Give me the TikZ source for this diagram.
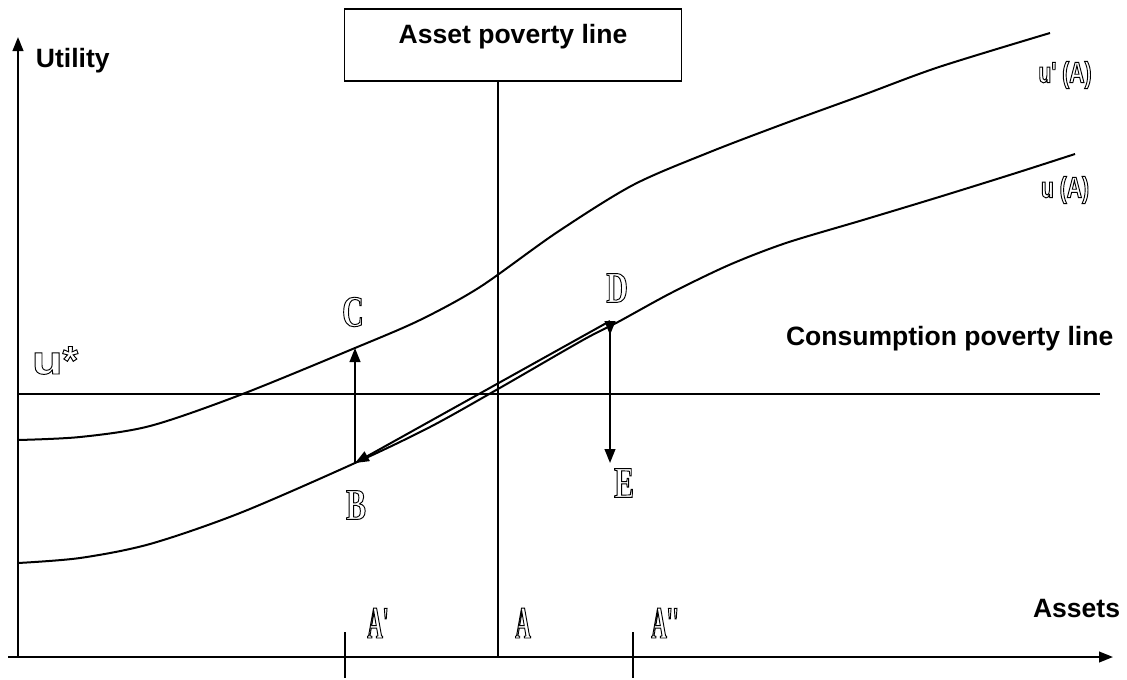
\documentclass[tikz,border=0pt]{standalone}
\usepackage{fontspec}
\setmainfont{Liberation Sans}
\newfontfamily\condserif[FakeStretch=0.68]{Liberation Serif}
\newfontfamily\narrowserif[FakeStretch=0.47]{Liberation Serif}
\newfontfamily\condsans[FakeStretch=0.72]{Liberation Sans}
\newfontfamily\widesans[FakeStretch=1.25]{Liberation Sans}
\usetikzlibrary{arrows.meta}
\newcommand\outl[1]{\special{pdf:literal direct 1 Tr 0.7 w}#1\special{pdf:literal direct 0 Tr}}
\begin{document}
\begin{tikzpicture}[x=0.75pt,y=-0.75pt,line width=1.5pt,
  lbl/.style={font=\bfseries\fontsize{19.9}{22}\selectfont,inner sep=0,anchor=base west},
  ptlbl/.style={font=\condserif\bfseries\fontsize{33}{33}\selectfont,inner sep=0},
  axlbl/.style={font=\narrowserif\bfseries\fontsize{34}{34}\selectfont,inner sep=0},
  crvlbl/.style={font=\condsans\bfseries\fontsize{22}{22}\selectfont,inner sep=0},
  arr/.style={-{Triangle[length=10.5pt,width=8pt]}}]
\useasboundingbox (0,0) rectangle (1127,679);

% axes
\coordinate (O) at (18,657);
\coordinate (Ytop) at (18,37);
\coordinate (Xl) at (8,657);
\coordinate (Xr) at (1113,657);
\draw[arr] (O) -- (Ytop);
\draw[arr] (Xl) -- (Xr);

% asset poverty line box and vertical line
\node[draw,line width=1.3pt,minimum width=252.75pt,inner xsep=0pt,inner ysep=0pt,
      text height=26.25pt,text depth=27.75pt,anchor=north,
      font=\bfseries\fontsize{19.9}{22}\selectfont] (box) at (513,8) {Asset poverty line};
\coordinate (Abot) at (498,658);
\draw (box.south -| Abot) -- (Abot);

% consumption poverty line
\coordinate (Hl) at (18,394);
\coordinate (Hr) at (1100,394);
\draw (Hl) -- (Hr);

% ticks
\coordinate (T1t) at (345,632); \coordinate (T1b) at (345,678);
\coordinate (T2t) at (633,632); \coordinate (T2b) at (633,678);
\draw (T1t) -- (T1b);
\draw (T2t) -- (T2b);

% curves
\draw plot[smooth] coordinates {(18,440) (80,437) (150,426) (240,395) (355,348) (420,320) (480,287) (556,233) (633,185) (710,152) (786,123) (863,95) (939,67) (1050,33)};
\draw plot[smooth] coordinates {(18,563) (80,558) (150,544) (240,513) (355,463) (430,427) (498,389) (583,340) (618,322) (671,293) (729,265) (786,243) (863,220) (939,197) (1016,173) (1075,154)};

% points
\coordinate (B) at (355,463);
\coordinate (C) at (355,348);
\coordinate (D) at (610,321);
\coordinate (E) at (610,463);
\draw[arr] (B) -- (C);
\draw[arr] (D) -- (B);
\draw[{Triangle[reversed,length=10.5pt,width=8pt]}-{Triangle[length=10.5pt,width=8pt]}] (D) -- (E);

% labels
\node[lbl] (util) at (35,67) {Utility};
\node[lbl] (cpl) at (785,345) {Consumption poverty line};
\node[lbl] (assets) at (1032,617) {Assets};
\node[inner sep=0,anchor=base west] (ustar) at (31,374)
  {\outl{{\widesans\bfseries\fontsize{30}{30}\selectfont u}{\bfseries\fontsize{30}{30}\selectfont *}}};
\node[crvlbl] (uprime) at (1065,75) {\outl{u' (A)}};
\node[crvlbl] (uA) at (1065,190) {\outl{u (A)}};
\node[ptlbl] (lC) at (353,312) {\outl{C}};
\node[ptlbl] (lD) at (617,288) {\outl{D}};
\node[ptlbl] (lB) at (356,505) {\outl{B}};
\node[ptlbl] (lE) at (624,483) {\outl{E}};
\node[axlbl] (lA1) at (378,623) {\outl{A'}};
\node[axlbl] (lA) at (523,623) {\outl{A}};
\node[axlbl] (lA2) at (665,623) {\outl{A''}};
\end{tikzpicture}
\end{document}
